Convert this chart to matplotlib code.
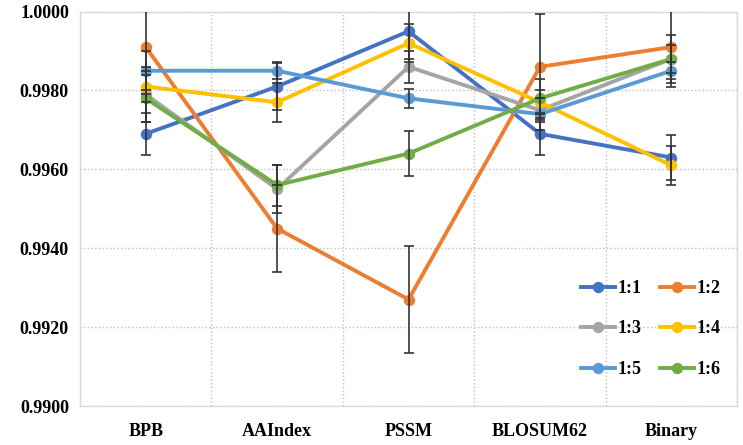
import matplotlib
matplotlib.use("Agg")
import matplotlib.pyplot as plt
import numpy as np

categories = ["BPB", "AAIndex", "PSSM", "BLOSUM62", "Binary"]
series_names = ["1:1", "1:2", "1:3", "1:4", "1:5", "1:6"]
colors = ["#4472C4", "#ED7D31", "#A5A5A5", "#FFC000", "#5B9BD5", "#70AD47"]

v_11 = [0.9969, 0.9981, 0.9995, 0.9969, 0.9963]
v_12 = [0.9991, 0.9945, 0.9927, 0.9986, 0.9991]
v_13 = [0.9979, 0.9955, 0.9986, 0.9975, 0.9988]
v_14 = [0.9981, 0.9977, 0.9992, 0.9977, 0.9961]
v_15 = [0.9985, 0.9985, 0.9978, 0.9974, 0.9985]
v_16 = [0.9978, 0.9956, 0.9964, 0.9978, 0.9988]

e_11 = [0.00053, 0.00060, 0.00070, 0.00053, 0.00058]
e_12 = [0.00120, 0.00110, 0.00135, 0.00134, 0.00100]
e_13 = [0.00070, 0.00060, 0.00040, 0.00030, 0.00060]
e_14 = [0.00040, 0.00050, 0.00048, 0.00030, 0.00050]
e_15 = [0.00050, 0.00022, 0.00024, 0.00040, 0.00022]
e_16 = [0.00060, 0.00052, 0.00058, 0.00050, 0.00035]

values = [v_11, v_12, v_13, v_14, v_15, v_16]
errors = [e_11, e_12, e_13, e_14, e_15, e_16]

plt.rcParams['font.family'] = ['Liberation Serif', 'DejaVu Serif']

fig = plt.figure(figsize=(7.43, 4.45), dpi=100)
ax = fig.add_axes([0.1077, 0.0876, 0.8843, 0.8864])

x = np.arange(len(categories))
handles = []
for name, col, v, e in zip(series_names, colors, values, errors):
    h, = ax.plot(x, v, color=col, lw=2.8, marker='o', markersize=7.2, label=name, zorder=3)
    ax.errorbar(x, v, yerr=e, fmt='none', ecolor='#333333', elinewidth=1.2,
                capsize=3.8, capthick=1.2, zorder=4)
    handles.append(h)

ax.set_xlim(-0.5, len(categories) - 0.5)
ax.set_ylim(0.9900, 1.0000)
ax.set_yticks(np.arange(0.9900, 1.00001, 0.0020))
ax.set_yticklabels([f"{t:.4f}" for t in np.arange(0.9900, 1.00001, 0.0020)],
                   fontsize=13, fontweight='bold')
ax.set_xticks(x)
ax.set_xticklabels(categories, fontsize=13, fontweight='bold')
ax.set_xticks(np.arange(-0.5, len(categories), 0.5), minor=True)
ax.tick_params(axis='both', which='both', length=0)
ax.tick_params(axis='x', pad=12)
ax.tick_params(axis='y', pad=8)

ax.grid(True, axis='y', which='major', linestyle=':', color='#BFBFBF', lw=1.0)
ax.grid(True, axis='x', which='minor', linestyle=':', color='#BFBFBF', lw=1.0)
ax.set_axisbelow(True)
for s in ax.spines.values():
    s.set_color('#D9D9D9')
    s.set_linewidth(1.0)

order = [0, 2, 4, 1, 3, 5]
leg = ax.legend([handles[i] for i in order], [series_names[i] for i in order],
                ncol=2, loc='lower right', bbox_to_anchor=(1.0, 0.03), frameon=False,
                prop={'family': 'Liberation Serif', 'weight': 'bold', 'size': 13},
                handlelength=1.9, columnspacing=1.0, labelspacing=1.3, handletextpad=0.15)

fig.savefig("out.png", dpi=100)
